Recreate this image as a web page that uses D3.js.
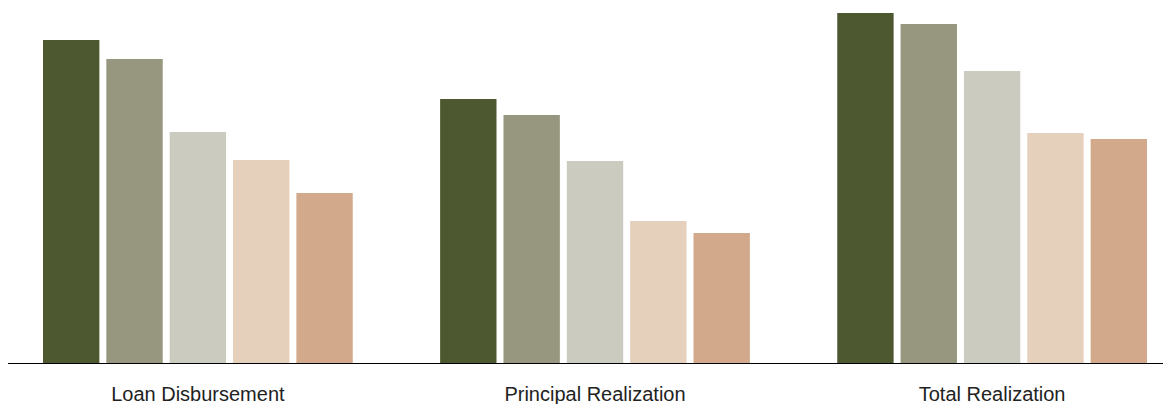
<!DOCTYPE html>
<html>
<head>
<meta charset="utf-8">
<script src="https://cdn.jsdelivr.net/npm/d3@7"></script>
<style>
  html, body { margin: 0; padding: 0; background: #fff; }
  svg { display: block; }
  .group-label { font-family: "Liberation Sans", Arial, sans-serif; font-size: 20px; fill: #222; }
</style>
</head>
<body>
<svg id="chart" width="1163" height="404"></svg>
<script>
// Categories along the x axis
const categories = ["Loan Disbursement", "Principal Realization", "Total Realization"];
// Series keys (one bar per series inside each category)
const seriesKeys = ["s1", "s2", "s3", "s4", "s5"];
// Values per series, in category order
const s1 = [323, 264, 350];
const s2 = [304, 248, 339];
const s3 = [231, 202, 292];
const s4 = [203, 142, 230];
const s5 = [170, 130, 224];
const seriesValues = [s1, s2, s3, s4, s5];
const colors = ["#4d5831", "#96977e", "#cccbbf", "#e5d0bc", "#d2a98a"];

const width = 1163, height = 404;
const baseline = 363;

const svg = d3.select("#chart");

const x0 = d3.scaleBand()
  .domain(categories)
  .range([43, 1147])
  .paddingInner(0.22)
  .paddingOuter(0);

const x1 = d3.scaleBand()
  .domain(seriesKeys)
  .range([0, x0.bandwidth()])
  .paddingInner(0.11)
  .paddingOuter(0);

const y = d3.scaleLinear()
  .domain([0, 350])
  .range([baseline, 13]);

const color = d3.scaleOrdinal().domain(seriesKeys).range(colors);

const rows = categories.map((c, i) => ({
  category: c,
  values: seriesKeys.map((k, j) => ({ key: k, value: seriesValues[j][i] }))
}));

const groups = svg.append("g")
  .selectAll("g")
  .data(rows)
  .join("g")
  .attr("transform", d => `translate(${x0(d.category)},0)`);

groups.selectAll("rect")
  .data(d => d.values)
  .join("rect")
  .attr("x", d => x1(d.key))
  .attr("width", x1.bandwidth())
  .attr("y", d => y(d.value))
  .attr("height", d => y(0) - y(d.value))
  .attr("fill", d => color(d.key));

// Baseline axis with category labels
const axis = d3.axisBottom(x0).tickSize(0).tickPadding(0);
const axisG = svg.append("g")
  .attr("transform", `translate(0,${baseline})`)
  .call(axis);
axisG.select(".domain").remove();
axisG.selectAll(".tick text")
  .attr("class", "group-label")
  .attr("y", 38)
  .attr("dy", null)
  .attr("font-family", null)
  .attr("font-size", null)
  .attr("fill", null);

svg.append("line")
  .attr("x1", 8).attr("x2", width)
  .attr("y1", baseline + 0.5).attr("y2", baseline + 0.5)
  .attr("stroke", "#000")
  .attr("stroke-width", 1);
</script>
</body>
</html>
